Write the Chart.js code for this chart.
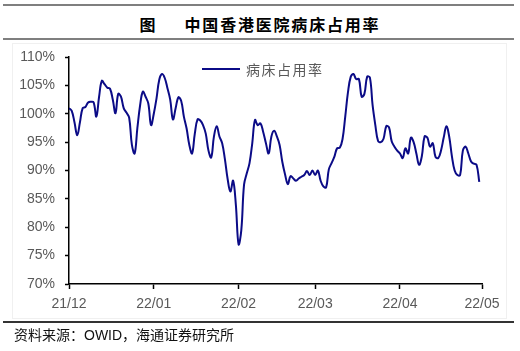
<html lang="zh">
<head>
  <meta charset="UTF-8">
  <title>中国香港医院病床占用率</title>
  <script src="https://cdn.jsdelivr.net/npm/chart.js"></script>
  <style>
    body { margin: 0; background: #fff; }
    #wrap { position: relative; width: 520px; height: 351px; overflow: hidden; font-family: "Liberation Sans", Arial, sans-serif; }
    .rule { position: absolute; left: 3px; width: 511px; height: 2px; background: #7f7f7f; }
    #title { position: absolute; left: 0; width: 520px; top: 13px; text-align: center; font-family: "Noto Sans CJK SC", sans-serif; font-weight: bold; font-size: 16px; letter-spacing: 1.8px; color: #000; line-height: 22px; }
    #frame { position: absolute; left: 12px; top: 43px; width: 493px; height: 274px; border: 1px solid #f0f0f0; }
    #viz { position: absolute; left: 0; top: 0; }
    #legend { position: absolute; left: 202px; top: 60px; height: 18px; }
    #legend .swatch { position: absolute; left: 0; top: 8px; width: 38px; height: 2px; background: #0b0b87; }
    #legend .txt { position: absolute; left: 44px; top: 0; white-space: nowrap; font-family: "Noto Sans CJK SC", sans-serif; font-size: 14px; letter-spacing: 1.5px; color: #595959; line-height: 18px; }
    #source { position: absolute; left: 14px; top: 325px; font-size: 14px; color: #111; white-space: nowrap; line-height: 18px; }
    #source .cn { font-family: "Noto Sans CJK SC", sans-serif; }
  </style>

  <script>
    // daily bed occupancy, starting 2021-12-01
    const occupancy = [
      101.0, 100.5, 98.5, 96.2, 98.5, 101.0, 101.2, 102.0, 102.1, 102.0,
      99.5, 103.0, 105.8, 105.2, 104.6, 104.4, 102.5, 100.1, 103.5, 103.0,
      101.0, 100.2, 99.3, 94.5, 93.0, 97.5, 101.5, 103.9, 103.0, 101.8,
      98.0, 100.0, 102.7, 106.0, 107.0, 106.3, 104.5, 102.5, 99.0, 101.0,
      102.9, 102.3, 99.5, 97.4, 94.5, 93.0, 96.5, 99.0, 98.8, 98.0,
      96.5, 93.5, 92.3, 96.0, 97.8, 96.0, 94.8, 92.0, 88.5, 86.3,
      88.2, 84.0, 77.0, 79.5, 87.5, 89.5, 91.3, 94.8, 98.9, 98.0,
      98.3, 96.8, 94.8, 93.0, 96.0, 97.0, 96.0, 94.5, 91.5, 89.3,
      87.6, 89.0, 88.6, 88.2, 88.6, 88.9, 89.2, 89.9, 89.2, 90.0,
      89.2, 90.0, 88.2, 87.2, 87.0, 90.2, 91.3, 92.4, 93.9, 94.0,
      95.5, 99.5, 103.8, 106.5, 107.0, 106.1, 106.1, 103.0, 103.5, 106.5,
      106.4, 101.5, 98.0, 95.2, 95.0, 95.6, 97.8, 97.6, 95.1, 94.2,
      93.5, 93.0, 92.2, 93.9, 93.0, 95.8, 95.0, 93.0, 91.0, 92.5,
      96.0, 95.8, 94.2, 94.8, 92.4, 92.2, 93.5, 95.8, 97.8, 96.0,
      92.5, 90.0, 89.2, 89.2, 93.5, 94.2, 93.0, 91.6, 91.2, 91.0,
      88.0
    ]
    const monthDays = [0, 31, 62, 90, 121, 151]
    const monthLabels = ['21/12', '22/01', '22/02', '22/03', '22/04', '22/05']

    window.onload = () => {
      const viz = document.getElementById('viz')
      const tickFont = { family: '"Liberation Sans", Arial, sans-serif', size: 14 }

      new Chart(viz, {
        type: 'line',
        data: {
          datasets: [{
            label: '病床占用率',
            data: occupancy.map((v, i) => ({ x: i, y: v })),
            borderColor: '#0b0b87',
            borderWidth: 2,
            pointRadius: 0,
            tension: 0.4,
            fill: false
          }]
        },
        options: {
          responsive: false,
          animation: false,
          devicePixelRatio: 1,
          layout: { padding: { left: 0, top: 57, right: 38, bottom: 30 } },
          plugins: { legend: { display: false }, tooltip: { enabled: false } },
          scales: {
            x: {
              type: 'linear',
              min: 0,
              max: 151,
              afterBuildTicks: s => { s.ticks = monthDays.map(v => ({ value: v })) },
              afterFit: s => { s.height = 37 },
              grid: { drawOnChartArea: false, tickLength: 5, color: '#000', tickWidth: 1.5 },
              border: { display: true, color: '#000', width: 1.5 },
              ticks: {
                padding: 7,
                color: '#595959',
                font: tickFont,
                maxRotation: 0,
                autoSkip: false,
                callback: v => monthLabels[monthDays.indexOf(v)]
              }
            },
            y: {
              min: 70,
              max: 110,
              afterFit: s => { s.width = 69 },
              grid: { drawOnChartArea: false, tickLength: 4, color: '#000', tickWidth: 1.5 },
              border: { display: true, color: '#000', width: 1.5 },
              ticks: {
                stepSize: 5,
                padding: 10,
                color: '#595959',
                font: tickFont,
                callback: v => v + '%'
              }
            }
          }
        }
      })
    }
  </script>
</head>
<body>
  <div id="wrap">
    <div class="rule" style="top:4px"></div>
    <div id="title">图&nbsp;&nbsp;&nbsp;&nbsp;&nbsp;中国香港医院病床占用率</div>
    <div class="rule" style="top:38px"></div>
    <div id="frame"></div>
    <canvas id="viz" width="520" height="351"></canvas>
    <div id="legend"><div class="swatch"></div><div class="txt">病床占用率</div></div>
    <div class="rule" style="top:321px; background:#333"></div>
    <div id="source"><span class="cn">资料来源：</span>OWID<span class="cn">，海通证券研究所</span></div>
  </div>
</body>
</html>
